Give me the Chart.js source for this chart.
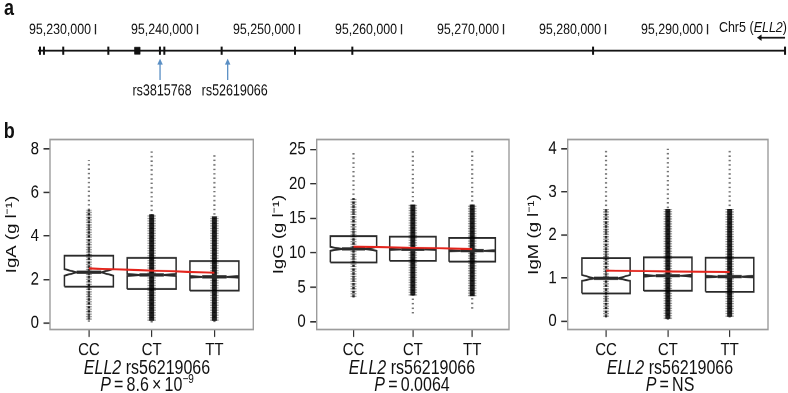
<!DOCTYPE html>
<html><head><meta charset="utf-8">
<script src="https://cdn.jsdelivr.net/npm/chart.js@4.4.0/dist/chart.umd.min.js"></script>
<style>
html,body{margin:0;padding:0;background:#fff;overflow:hidden;width:788px;height:393px}
#page{position:absolute;left:0;top:0;width:788px;height:317px;transform:scaleY(1.24);transform-origin:0 0;font-family:"Liberation Sans",Arial,sans-serif;color:#111}
canvas{position:absolute}
.txt{position:absolute;white-space:nowrap;line-height:1}
.cap{position:absolute;white-space:nowrap;line-height:1;text-align:center;width:240px;font-size:16px}
sup{font-size:10px;vertical-align:6px;line-height:0}
</style></head><body>
<div id="page">
  <div class="txt" style="left:4px;top:-3px;font-size:18px;font-weight:bold">a</div>
  <div class="txt" style="left:3.7px;top:96.3px;font-size:18px;font-weight:bold">b</div>
  <div class="txt" style="right:1px;top:16.2px;font-size:12.5px">Chr5 (<i>ELL2</i>)</div>
  <canvas id="gene" width="788" height="82" style="left:0;top:0"></canvas>
  <canvas id="iga" width="256" height="190" style="left:0;top:100px"></canvas>
  <canvas id="igg" width="248" height="190" style="left:264px;top:100px"></canvas>
  <canvas id="igm" width="248" height="190" style="left:524px;top:100px"></canvas>
  <div class="cap" style="left:27px;top:288.6px"><i>ELL2</i> rs56219066</div>
  <div class="cap" style="left:27px;top:301.6px"><i>P</i>&#8201;=&#8201;8.6&#8201;×&#8201;10<sup>−9</sup></div>
  <div class="cap" style="left:292px;top:288.6px"><i>ELL2</i> rs56219066</div>
  <div class="cap" style="left:292px;top:301.6px"><i>P</i>&#8201;=&#8201;0.0064</div>
  <div class="cap" style="left:550px;top:288.6px"><i>ELL2</i> rs56219066</div>
  <div class="cap" style="left:550px;top:301.6px"><i>P</i>&#8201;=&#8201;NS</div>
</div>
<script>
// ---------- data: panel a (genomic positions, bp) ----------
const genomeTicks   = [95230000, 95240000, 95250000, 95260000, 95270000, 95280000, 95290000];
const genomeRange   = [95220640, 95297890];
const geneSpan      = [95224360, 95297600];
const exonPositions = [95224560, 95224950, 95226840, 95231260, 95236320, 95236750, 95242370, 95249560, 95255180, 95278780, 95297600];
const blockPosition = [95234100];
const snpNames      = ['rs3815768', 'rs52619066'];
const snpPositions  = [95236330, 95242960];
const strandArrow   = [95295150, 95297600];

// ---------- data: panel b ----------
const genotypes = ['CC', 'CT', 'TT'];

const igaQ1 = [1.67, 1.56, 1.49];
const igaMedian = [2.33, 2.21, 2.12];
const igaQ3 = [3.10, 2.99, 2.85];
const igaNotchLow = [2.18, 2.16, 2.08];
const igaNotchHigh = [2.48, 2.26, 2.16];
const igaMean = [2.51, 2.41, 2.31];
const igaMin = [0.06, 0.02, 0.05];
const igaMax = [7.5, 7.95, 7.85];
const igaCoreLow = [0.15, 0.1, 0.1];
const igaCoreHigh = [5.2, 5.0, 4.9];
const igaTicks = [0, 2, 4, 6, 8];

const iggQ1 = [8.6, 8.84, 8.7];
const iggMedian = [10.55, 10.49, 10.29];
const iggQ3 = [12.42, 12.32, 12.17];
const iggNotchLow = [10.29, 10.40, 10.20];
const iggNotchHigh = [10.85, 10.58, 10.38];
const iggMean = [10.87, 10.73, 10.54];
const iggMin = [3.5, 1.2, 1.9];
const iggMax = [24.8, 24.9, 24.8];
const iggCoreLow = [3.6, 3.8, 3.7];
const iggCoreHigh = [17.9, 17.0, 17.0];
const iggTicks = [0, 5, 10, 15, 20, 25];

const igmQ1 = [0.64, 0.70, 0.68];
const igmMedian = [0.99, 1.05, 1.03];
const igmQ3 = [1.455, 1.48, 1.47];
const igmNotchLow = [0.93, 1.03, 1.01];
const igmNotchHigh = [1.07, 1.07, 1.05];
const igmMean = [1.17, 1.15, 1.14];
const igmMin = [0.08, 0.03, 0.08];
const igmMax = [3.95, 4.0, 3.98];
const igmCoreLow = [0.1, 0.05, 0.1];
const igmCoreHigh = [2.6, 2.6, 2.6];
const igmTicks = [0, 1, 2, 3, 4];

// ---------- layout / style (not data) ----------
const FONT = '"Liberation Sans", Arial, sans-serif';
Chart.defaults.font.family = FONT;
Chart.defaults.color = '#111';
const L = {
  geneAxisH: 31.4, geneY: 40.9, arrowTail: 64.5, arrowTip: 50.5, snpLabelY: 73.4,
  tickMarkY: 23.6, tickMarkHalf: 4.1, strandY: 30.4, snpLabelDx: [2, 7], canvasH: 82,
  boxHalf: 0.39, notchFrac: 0.5, xRange: [0.38, 3.62],
  coreWidth: [4, 6.5, 6.5]
};

// ---------- panel a ----------
const trackPlugin = {
  id: 'trackText',
  afterDatasetsDraw(chart) {
    const {ctx, scales: {x, y}} = chart;
    ctx.save();
    ctx.strokeStyle = '#222'; ctx.lineWidth = 1.3;
    genomeTicks.forEach(v => {
      const px = x.getPixelForValue(v);
      ctx.beginPath();
      ctx.moveTo(px, y.getPixelForValue(L.tickMarkY - L.tickMarkHalf));
      ctx.lineTo(px, y.getPixelForValue(L.tickMarkY + L.tickMarkHalf));
      ctx.stroke();
    });
    ctx.font = '12.5px ' + FONT;
    ctx.fillStyle = '#111';
    ctx.textAlign = 'center';
    ctx.textBaseline = 'middle';
    snpNames.forEach((n, i) => ctx.fillText(n, x.getPixelForValue(snpPositions[i]) + L.snpLabelDx[i], y.getPixelForValue(L.snpLabelY)));
    ctx.restore();
  }
};

new Chart(document.getElementById('gene'), {
  type: 'scatter',
  data: { datasets: [
    { data: geneSpan.map(v => ({x: v, y: L.geneY})), showLine: true, borderColor: '#111', borderWidth: 1.5, pointRadius: 0 },
    { data: exonPositions.map(v => ({x: v, y: L.geneY})), pointStyle: 'line', pointRotation: 90, pointRadius: 3.3,
      pointBorderColor: '#111', pointBorderWidth: 2 },
    { data: blockPosition.map(v => ({x: v, y: L.geneY})), pointStyle: 'rect', pointRadius: 4,
      pointBackgroundColor: '#111', pointBorderColor: '#111', pointBorderWidth: 0.5 },
    { data: strandArrow.map(v => ({x: v, y: L.strandY})), showLine: true, borderColor: '#111', borderWidth: 1.4,
      pointStyle: 'triangle', pointRotation: -90, pointRadius: [3, 0], pointBackgroundColor: '#111', pointBorderWidth: 0, clip: false },
    ...snpPositions.map(v => ({
      data: [{x: v, y: L.arrowTail}, {x: v, y: L.arrowTip}], showLine: true, borderColor: '#5a8fc4', borderWidth: 1.3,
      pointStyle: 'triangle', pointRadius: [0, 3.2], pointBackgroundColor: '#5a8fc4', pointBorderWidth: 0
    }))
  ]},
  options: {
    responsive: false, animation: false, devicePixelRatio: 2, events: [],
    layout: { padding: 0, autoPadding: false },
    plugins: { legend: { display: false }, tooltip: { enabled: false } },
    scales: {
      x: { type: 'linear', position: 'top', min: genomeRange[0], max: genomeRange[1],
        afterBuildTicks: s => { s.ticks = genomeTicks.map(v => ({value: v})); },
        afterFit: s => { s.height = L.geneAxisH; s.paddingLeft = 0; s.paddingRight = 0; },
        ticks: { align: 'end', labelOffset: -4.5, padding: 0, color: '#111', font: { size: 12.4 },
          callback: v => Number(v).toLocaleString('en-US') },
        grid: { display: false, drawTicks: false }, border: { display: false } },
      y: { display: false, min: L.geneAxisH, max: L.canvasH, reverse: true }
    }
  },
  plugins: [trackPlugin]
});

// ---------- panel b ----------
const framePlugin = {
  id: 'frame',
  afterDatasetsDraw(c) {
    const a = c.chartArea, ctx = c.ctx;
    ctx.save(); ctx.strokeStyle = '#9c9c9c'; ctx.lineWidth = 1.4;
    ctx.strokeRect(a.left, a.top, a.right - a.left, a.bottom - a.top); ctx.restore();
  }
};

function boxChart(id, s, layout) {
  const ds = [];
  genotypes.forEach((g, i) => {
    const x = i + 1, w = L.boxHalf, nw = L.boxHalf * L.notchFrac;
    ds.push({ order: 5, showLine: true, borderColor: '#2a2a2a', borderWidth: 1.5, pointRadius: 0, borderJoinStyle: 'miter',
      data: [[x - w, s.q1[i]], [x + w, s.q1[i]], [x + w, s.nlo[i]], [x + nw, s.med[i]], [x + w, s.nhi[i]], [x + w, s.q3[i]],
             [x - w, s.q3[i]], [x - w, s.nhi[i]], [x - nw, s.med[i]], [x - w, s.nlo[i]], [x - w, s.q1[i]]].map(p => ({x: p[0], y: p[1]})) });
    ds.push({ order: 4, showLine: true, borderColor: 'rgba(0,0,0,0.55)', borderWidth: 2.2, borderDash: [1.2, 2.4], pointRadius: 0,
      data: [{x: x, y: s.min[i]}, {x: x, y: s.max[i]}] });
    ds.push({ order: 3, showLine: true, borderColor: 'rgba(0,0,0,0.4)', borderWidth: L.coreWidth[i] + 2, borderDash: [1, 1], pointRadius: 0,
      data: [{x: x, y: s.coreLo[i]}, {x: x, y: s.coreHi[i]}] });
    ds.push({ order: 2, showLine: true, borderColor: i === 0 ? 'rgba(0,0,0,0.7)' : 'rgba(0,0,0,0.85)', borderWidth: L.coreWidth[i] - 1.5,
      borderDash: i === 0 ? [2, 1] : [], pointRadius: 0,
      data: [{x: x, y: s.coreLo[i]}, {x: x, y: s.coreHi[i]}] });
    ds.push({ order: 1, showLine: true, borderColor: '#2a2a2a', borderWidth: 2.6, pointRadius: 0,
      data: [{x: x - nw, y: s.med[i]}, {x: x + nw, y: s.med[i]}] });
  });
  ds.push({ order: 0, showLine: true, borderColor: '#e3241c', borderWidth: 1.6, pointRadius: 0,
    data: s.mean.map((m, i) => ({x: i + 1, y: m})) });

  new Chart(document.getElementById(id), {
    type: 'scatter',
    data: { datasets: ds },
    options: {
      responsive: false, animation: false, devicePixelRatio: 2, events: [],
      layout: { padding: { top: 12.5, right: layout.padRight, left: 0, bottom: 0 }, autoPadding: false },
      plugins: { legend: { display: false }, tooltip: { enabled: false } },
      scales: {
        x: { type: 'linear', min: L.xRange[0], max: L.xRange[1],
          afterBuildTicks: sc => { sc.ticks = genotypes.map((g, i) => ({value: i + 1})); },
          afterFit: sc => { sc.height = 24.3; sc.paddingLeft = 0; sc.paddingRight = 0; },
          ticks: { padding: 1.6, color: '#111', font: { size: 15 }, callback: v => genotypes[Math.round(v) - 1] },
          grid: { display: true, drawOnChartArea: false, drawTicks: true, tickLength: 6, color: '#333', lineWidth: 1.2 },
          border: { display: false } },
        y: { type: 'linear', min: s.range[0], max: s.range[1],
          afterBuildTicks: sc => { sc.ticks = s.ticks.map(v => ({value: v})); },
          afterFit: sc => { sc.width = layout.axisW; sc.paddingTop = 0; sc.paddingBottom = 0; },
          ticks: { padding: 4.5, color: '#111', font: { size: 15 } },
          grid: { display: true, drawOnChartArea: false, drawTicks: true, tickLength: 6.5, color: '#333', lineWidth: 1.2 },
          border: { display: false },
          title: { display: true, text: s.title, color: '#111', font: { size: 15 }, padding: { top: layout.titlePad, bottom: 0 } } }
      }
    },
    plugins: [framePlugin]
  });
}

boxChart('iga', { q1: igaQ1, med: igaMedian, q3: igaQ3, nlo: igaNotchLow, nhi: igaNotchHigh, mean: igaMean,
  min: igaMin, max: igaMax, coreLo: igaCoreLow, coreHi: igaCoreHigh, ticks: igaTicks, range: [-0.3, 8.44], title: 'IgA (g l\u207B\u00B9)' },
  { axisW: 50, padRight: 2.7, titlePad: 3 });
boxChart('igg', { q1: iggQ1, med: iggMedian, q3: iggQ3, nlo: iggNotchLow, nhi: iggNotchHigh, mean: iggMean,
  min: iggMin, max: iggMax, coreLo: iggCoreLow, coreHi: iggCoreHigh, ticks: iggTicks, range: [-1.13, 26.42], title: 'IgG (g l\u207B\u00B9)' },
  { axisW: 52.7, padRight: 3, titlePad: 5.7 });
boxChart('igm', { q1: igmQ1, med: igmMedian, q3: igmQ3, nlo: igmNotchLow, nhi: igmNotchHigh, mean: igmMean,
  min: igmMin, max: igmMax, coreLo: igmCoreLow, coreHi: igmCoreHigh, ticks: igmTicks, range: [-0.197, 4.213], title: 'IgM (g l\u207B\u00B9)' },
  { axisW: 43.7, padRight: 4, titlePad: 1 });
</script>
</body></html>
